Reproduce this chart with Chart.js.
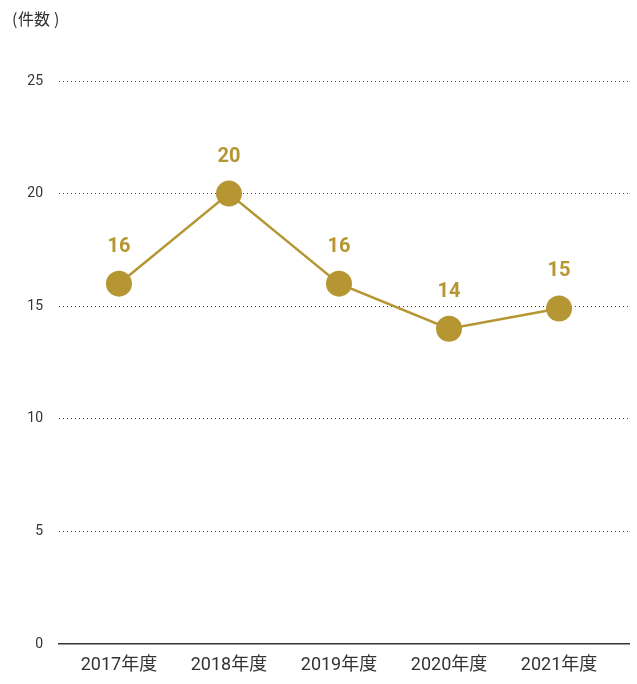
<!DOCTYPE html>
<html><head><meta charset="utf-8">
<script src="https://cdn.jsdelivr.net/npm/chart.js@4"></script>
<style>html,body{margin:0;padding:0;background:#fff}#wrap{width:637px;height:684px;position:relative}</style>
</head><body><div id="wrap"><canvas id="c" width="637" height="684"></canvas></div>
<script>
const categories = ["2017年度", "2018年度", "2019年度", "2020年度", "2021年度"];
const counts = [16, 20, 16, 14, 14.9];
const yTicks = [0, 5, 10, 15, 20, 25];
const unitLabel = ["(", "件数", ")"];
const gold = "#B59632";

const labelPlugin = {
  id: "labels",
  afterDatasetsDraw(chart) {
    const ctx = chart.ctx;
    const meta = chart.getDatasetMeta(0);
    ctx.save();
    ctx.fillStyle = gold;
    ctx.font = "bold 20px Roboto, 'Noto Sans', sans-serif";
    ctx.textAlign = "center";
    ctx.textBaseline = "middle";
    meta.data.forEach((pt, i) => {
      ctx.fillText(String(Math.round(counts[i])), pt.x, pt.y - 37);
    });
    ctx.fillStyle = "#333";
    ctx.font = "16px 'Noto Sans CJK JP', sans-serif";
    ctx.textAlign = "left";
    ctx.fillText(unitLabel[0], 12, 19);
    ctx.fillText(unitLabel[1], 18, 19);
    ctx.fillText(unitLabel[2], 54, 19);
    ctx.restore();
  }
};

const chart = new Chart(document.getElementById("c"), {
  type: "line",
  data: {
    datasets: [{
      data: counts.map((v, i) => ({ x: i, y: v })),
      borderColor: gold,
      backgroundColor: gold,
      borderWidth: 2.5,
      pointRadius: 13,
      pointHoverRadius: 13,
      pointBackgroundColor: gold,
      pointBorderWidth: 0,
      tension: 0,
      clip: false
    }]
  },
  options: {
    responsive: false,
    animation: false,
    events: [],
    layout: { autoPadding: false, padding: { top: 81, right: 8, left: 0, bottom: 0 } },
    plugins: { legend: { display: false }, tooltip: { enabled: false } },
    scales: {
      x: {
        type: "linear",
        min: -0.545,
        max: 4.636,
        afterBuildTicks: s => { s.ticks = categories.map((_, i) => ({ value: i })); },
        afterFit: s => { s.height = 40; s.paddingLeft = 0; s.paddingRight = 0; },
        grid: { display: false, drawTicks: false },
        border: { display: true, color: "#333", width: 1.5 },
        ticks: {
          padding: 11,
          color: "#333",
          font: { size: 18, family: "Roboto, 'Noto Sans CJK JP', sans-serif" },
          callback: v => categories[v] ?? "",
          maxRotation: 0
        }
      },
      y: {
        min: 0,
        max: 25,
        afterBuildTicks: s => { s.ticks = yTicks.map(v => ({ value: v })); },
        afterFit: s => { s.width = 59; },
        grid: {
          drawTicks: false,
          color: c => c.tick && c.tick.value === 0 ? "rgba(0,0,0,0)" : "#444",
          lineWidth: 1
        },
        border: { display: false, dash: [1, 3] },
        ticks: {
          padding: 16,
          color: "#333",
          font: { size: 14, family: "Roboto, sans-serif" }
        }
      }
    }
  },
  plugins: [labelPlugin]
});
// correct any residual layout offset so the plot area spans x 59..629
for (let k = 0; k < 3; k++) {
  const diff = chart.chartArea.right - 629;
  if (Math.abs(diff) < 0.5) break;
  chart.options.layout.padding.right = Math.max(0, chart.options.layout.padding.right + diff);
  chart.update();
}
</script></body></html>
